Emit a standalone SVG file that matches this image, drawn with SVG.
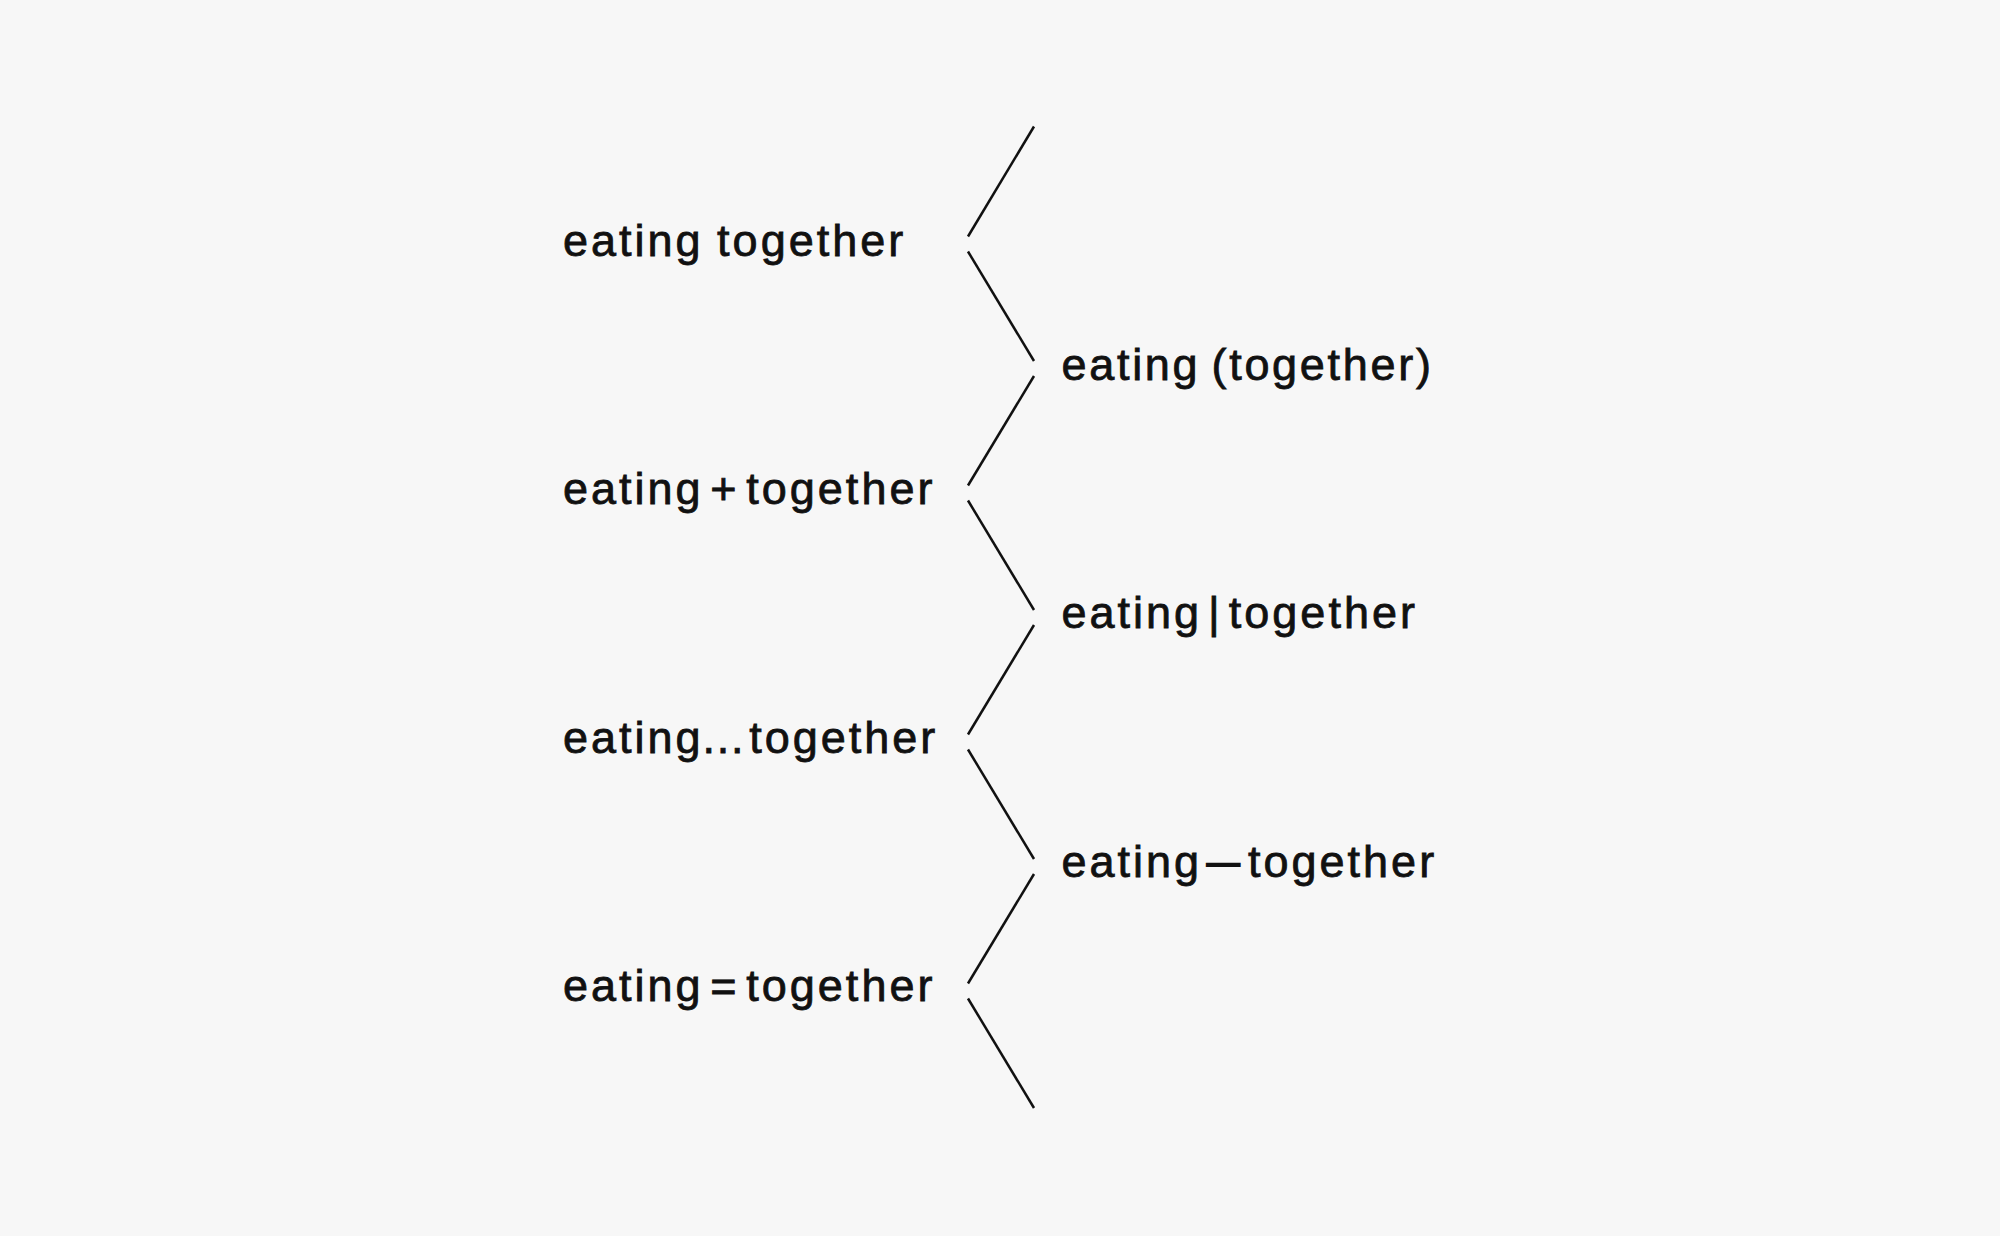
<svg xmlns="http://www.w3.org/2000/svg" width="2000" height="1236" viewBox="0 0 2000 1236">
<style>
.lbl{font-family:"Liberation Sans",Arial,sans-serif;font-size:45px;letter-spacing:3px;fill:#111111;stroke:#111111;stroke-width:0.8px}
.zig{stroke:#111111;stroke-width:2.5;stroke-linecap:butt;fill:none}
</style>
<rect x="0" y="0" width="2000" height="1236" fill="#f7f7f7"/>
<g id="connectors">
<line class="zig" x1="1034" y1="126.5" x2="968" y2="236.5"/>
<line class="zig" x1="968" y1="251.5" x2="1034" y2="361"/>
<line class="zig" x1="1034" y1="376" x2="968" y2="485.5"/>
<line class="zig" x1="968" y1="500.5" x2="1034" y2="610"/>
<line class="zig" x1="1034" y1="625" x2="968" y2="734.5"/>
<line class="zig" x1="968" y1="749.5" x2="1034" y2="859"/>
<line class="zig" x1="1034" y1="874" x2="968" y2="983.5"/>
<line class="zig" x1="968" y1="998.5" x2="1034" y2="1108"/>
</g>
<g id="node-eating-together"><text class="lbl" x="563" y="256" word-spacing="-2">eating together</text></g>
<g id="node-eating-paren"><text class="lbl" x="1061.5" y="380" style="letter-spacing:2.7px;word-spacing:-4px">eating (together)</text></g>
<g id="node-eating-plus"><text class="lbl" x="563" y="504" word-spacing="-8.8">eating + together</text></g>
<g id="node-eating-bar"><text class="lbl" x="1061.5" y="628" word-spacing="-9.5">eating | together</text></g>
<g id="node-eating-dots"><text class="lbl" x="563" y="753">eating<tspan x="702.6 716.8 731">...</tspan><tspan x="749.2">together</tspan></text></g>
<g id="node-eating-dash"><text class="lbl" x="1061.5" y="877">eating<tspan x="1206.7" dy="-4" font-size="33" letter-spacing="0" stroke-width="1.8">—</tspan><tspan x="1248" dy="4">together</tspan></text></g>
<g id="node-eating-equals"><text class="lbl" x="563" y="1001" word-spacing="-8.8">eating = together</text></g>
</svg>
